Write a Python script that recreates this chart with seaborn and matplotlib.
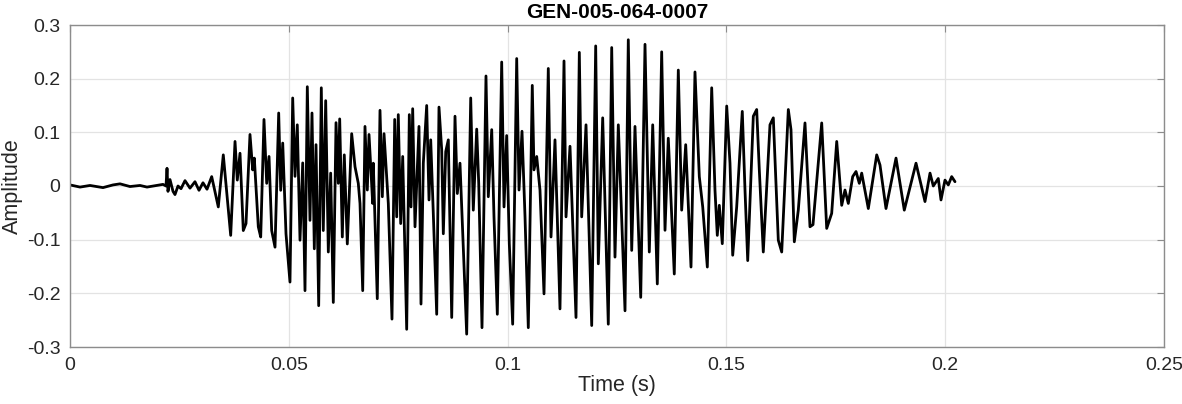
import numpy as np
import pandas as pd
import matplotlib
matplotlib.use("Agg")
import matplotlib.pyplot as plt
import seaborn as sns

# waveform, as turning points (time in ms, amplitude)
onset_t = [0.0, 2.29, 4.57, 7.54, 9.83, 11.43, 13.71, 16.0, 17.6, 19.88, 21.25,
           21.94, 22.17, 22.39, 22.85, 23.54, 23.99, 24.68, 25.37, 26.28, 27.42,
           28.56, 29.48, 30.39, 31.31, 32.38, 33.89, 35.03, 36.72, 37.71, 38.23,
           38.85, 39.60, 40.22, 41.13, 41.75, 42.12, 43.03, 43.58, 44.33, 44.95,
           45.48, 46.09, 46.85, 47.69, 48.15, 48.61, 49.36]
onset_a = [0.002, -0.002, 0.001, -0.003, 0.002, 0.004, -0.001, 0.001, -0.002, 0.001, 0.003,
           0.0, 0.033, -0.010, 0.012, -0.010, -0.016, 0.0, -0.005, 0.010, -0.004,
           0.008, -0.008, 0.006, -0.006, 0.0175, -0.039, 0.058, -0.092, 0.083, 0.011,
           0.061, -0.083, -0.070, 0.096, 0.030, 0.052, -0.076, -0.095, 0.124, 0.005,
           0.055, -0.083, -0.114, 0.136, -0.008, 0.080, -0.089]

build_t = [50.27, 50.89, 51.42, 51.94, 52.56, 53.18, 53.70, 54.23, 54.84, 55.30,
           55.83, 56.22, 56.83, 57.43, 57.88, 58.43, 59.03, 59.57, 60.17, 60.79,
           61.31, 61.63, 62.23, 62.68, 63.37, 64.37, 65.13, 65.88, 66.27, 66.89,
           67.41, 67.94, 68.33, 69.17, 69.31, 70.22, 70.84, 71.37, 71.76, 72.74,
           73.58, 74.20, 74.66, 75.02, 75.57, 76.03, 76.94, 77.54, 77.93, 78.31,
           78.84, 79.75, 80.21, 80.74, 81.51, 82.04, 82.43, 83.02, 83.80, 84.32,
           84.94, 85.31, 85.86, 86.45, 87.23, 87.98, 88.51, 89.12]
build_a = [-0.179, 0.164, 0.018, 0.114, -0.101, 0.043, -0.195, 0.185, -0.064, 0.136,
           -0.117, 0.077, -0.223, 0.183, -0.083, 0.159, -0.123, 0.024, -0.217, 0.118,
           0.005, 0.125, -0.095, 0.058, -0.108, 0.0975, 0.036, 0.005, -0.0325, -0.195,
           0.111, -0.0075, 0.096, -0.0325, 0.0425, -0.210, 0.141, -0.020, 0.0975, -0.0325,
           -0.248, 0.124, -0.0575, 0.133, -0.070, 0.055, -0.267, 0.133, -0.039, 0.144,
           -0.076, 0.111, -0.220, 0.0425, 0.150, -0.026, 0.086, -0.051, -0.239, 0.147,
           0.0675, -0.089, 0.064, 0.086, -0.245, 0.130, -0.014, 0.0425]

peak_t = [90.65, 91.57, 92.16, 92.94, 93.40, 94.15, 95.06, 95.59, 96.37, 96.89,
          97.65, 98.65, 99.18, 99.79, 100.39, 101.16, 102.08, 102.61, 103.29, 103.98,
          104.73, 105.64, 106.03, 106.65, 107.40, 108.32, 109.30, 109.92, 110.83, 111.97,
          112.89, 113.35, 114.26, 115.63, 116.39, 116.93, 117.92, 119.22, 120.13, 120.73,
          121.73, 123.01, 123.79, 124.54, 125.30, 126.83, 127.58, 128.36, 129.11, 130.42,
          131.40, 132.38, 133.16, 134.21]
peak_a = [-0.276, 0.164, -0.045, 0.106, 0.005, -0.264, 0.205, -0.020, 0.105, -0.0575,
          -0.239, 0.231, -0.039, 0.094, -0.1075, -0.2575, 0.2375, -0.0075, 0.102, -0.0575,
          -0.264, 0.1875, 0.030, 0.055, -0.0075, -0.201, 0.219, -0.095, 0.086, -0.229,
          0.233, -0.0575, 0.074, -0.245, 0.249, -0.0575, 0.114, -0.260, 0.261, -0.145,
          0.127, -0.2575, 0.258, -0.1325, 0.114, -0.2325, 0.2725, -0.120, 0.111, -0.2075,
          0.264, -0.123, 0.114, -0.1825]

decay_t = [135.21, 135.97, 136.72, 138.09, 139.01, 139.78, 140.70, 141.91, 142.82, 143.81,
           144.59, 145.64, 146.64, 147.39, 147.92, 148.38, 149.06, 150.07, 150.82, 151.44,
           152.35, 153.63, 154.25, 154.87, 156.15, 156.92, 157.52, 158.43, 159.96, 160.72,
           161.86, 162.64, 164.15, 164.76, 165.52, 166.43, 167.96, 169.10, 169.79, 171.78,
           172.92, 174.06, 175.21, 176.35, 177.10, 177.86, 178.86, 179.62, 180.37, 180.92,
           182.43, 184.35, 185.10, 186.47, 188.76, 190.65, 193.33, 195.38, 196.53, 197.28,
           198.42, 199.04, 199.95, 200.71, 201.48, 202.24]
decay_a = [0.250, -0.0825, 0.089, -0.164, 0.216, -0.045, 0.077, -0.151, 0.2125, 0.0175,
           -0.039, -0.151, 0.183, -0.0075, -0.092, -0.036, -0.1075, 0.149, 0.0425, -0.129,
           -0.039, 0.139, -0.0075, -0.139, 0.130, 0.1425, 0.030, -0.123, 0.114, 0.127,
           -0.101, -0.123, 0.1425, 0.105, -0.104, -0.045, 0.1175, -0.076, -0.072, 0.1175,
           -0.079, -0.051, 0.083, -0.036, -0.0075, -0.0325, 0.0175, 0.027, 0.005, 0.024,
           -0.042, 0.058, 0.039, -0.042, 0.052, -0.045, 0.0425, -0.029, 0.024, 0.0,
           0.014, -0.026, 0.011, 0.002, 0.0175, 0.008]

x_ticks = [0, 0.05, 0.1, 0.15, 0.2, 0.25]
x_labels = ["0", "0.05", "0.1", "0.15", "0.2", "0.25"]
y_ticks = [-0.3, -0.2, -0.1, 0, 0.1, 0.2, 0.3]
y_labels = ["-0.3", "-0.2", "-0.1", "0", "0.1", "0.2", "0.3"]

df = pd.DataFrame({
    "t": np.array(onset_t + build_t + peak_t + decay_t) / 1000.0,
    "amp": onset_a + build_a + peak_a + decay_a,
})

sns.set_style("whitegrid")
plt.rcParams["font.family"] = ["Liberation Sans", "DejaVu Sans"]

fig = plt.figure(figsize=(11.82, 4.04), dpi=100)
ax = fig.add_axes([70 / 1182, 1 - 347 / 404, 1094 / 1182, 322 / 404])

sns.lineplot(data=df, x="t", y="amp", color="black", linewidth=2.0,
             estimator=None, sort=False, ax=ax)

ax.set_xlim(0, 0.25)
ax.set_ylim(-0.3, 0.3)
ax.set_xticks(x_ticks)
ax.set_xticklabels(x_labels)
ax.set_yticks(y_ticks)
ax.set_yticklabels(y_labels)

ax.grid(True, color="#e3e3e3", linewidth=0.9)
for s in ax.spines.values():
    s.set_color("#8c8c8c")
    s.set_linewidth(1.0)
ax.tick_params(direction="in", length=5, width=0.8, color="#8c8c8c",
               top=True, right=True, labelsize=14, labelcolor="#262626", pad=7)

ax.set_xlabel("Time (s)", fontsize=15.5, color="#262626", labelpad=1)
ax.set_ylabel("Amplitude", fontsize=15.5, color="#262626", labelpad=3)
ax.set_title("GEN-005-064-0007", fontsize=15, fontweight="bold", color="#000000", pad=5)

fig.savefig("out.png", dpi=100)
